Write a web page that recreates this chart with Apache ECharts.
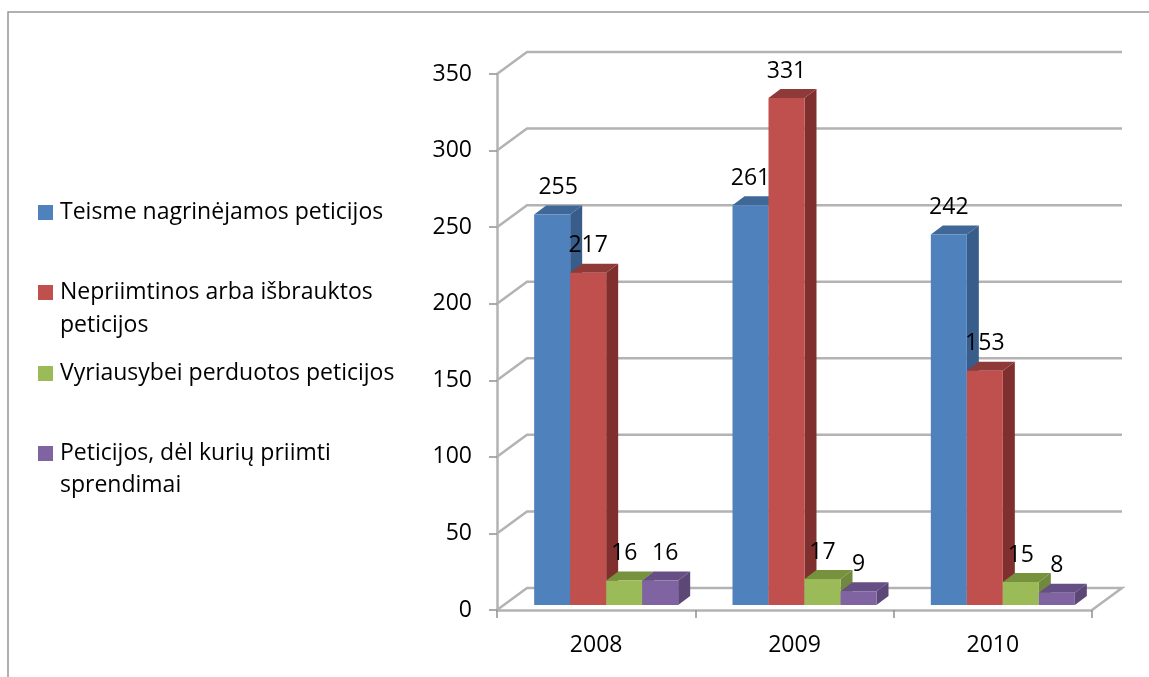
<!DOCTYPE html>
<html><head><meta charset="utf-8">
<style>html,body{margin:0;padding:0;background:#fff}#c{width:1149px;height:677px}</style>
<script src="https://cdn.jsdelivr.net/npm/echarts@6/dist/echarts.min.js"></script>
</head><body><div id="c"></div>
<script>
const categories = ['2008','2009','2010'];
const yTicks = [0,50,100,150,200,250,300,350];
const teisme = [255,261,242];
const nepriimtinos = [217,331,153];
const vyriausybei = [16,17,15];
const sprendimai = [16,9,8];

const names = ['Teisme nagrinėjamos peticijos','Nepriimtinos arba išbrauktos peticijos','Vyriausybei perduotos peticijos','Peticijos, dėl kurių priimti sprendimai'];
const firstLines = ['Teisme nagrinėjamos peticijos','Nepriimtinos arba išbrauktos','Vyriausybei perduotos peticijos','Peticijos, dėl kurių priimti'];
const values = [teisme,nepriimtinos,vyriausybei,sprendimai];
const front = ['#4F81BD','#C0504D','#9BBB59','#8064A2'];
const side = ['#385D8A','#7F302E','#71893F','#5C4776'];
const top3d = ['#3F6797','#8E3A38','#76923C','#664F85'];
const legendTop = [201,281,362,442];
const FONT = '"Open Sans"', FS = 23;
const BAR = 36, DX = 12, DY = 9, LIFT = 5, SHIFT = 10;
const WX = 30, WY = 22;
const GRID = '#B3B3B3';
const labelNudge = {'0,0':6,'3,0':5};

const walls = {
  type:'custom', silent:true, z:1, legendHoverLink:false,
  coordinateSystem:'cartesian2d',
  data: yTicks.map(v=>[0,v]),
  renderItem(params,api){
    const cs = params.coordSys, y = api.coord([0,api.value(1)])[1];
    const l = cs.x, r = cs.x+cs.width;
    const pts = [[l,y],[l+WX,y-WY],[r+WX,y-WY]];
    if(api.value(1)===0) pts.push([r,y]);
    return {type:'polyline',shape:{points:pts},style:{stroke:GRID,lineWidth:2.5,fill:null}};
  }
};

const bars = names.map((name,s)=>({
  type:'custom', name, z:2+s,
  coordinateSystem:'cartesian2d',
  itemStyle:{color:front[s]},
  data: values[s].map((v,i)=>[i,v]),
  renderItem(params,api){
    const i = api.value(0), v = api.value(1);
    const c = api.coord([i,v]), base = api.coord([i,0])[1]-LIFT;
    const unit = base+LIFT-c[1];
    const x = c[0]+(s-2)*BAR+SHIFT, yt = base-unit, w = BAR;
    const nudge = labelNudge[s+','+i]||0;
    return {type:'group',children:[
      {type:'polygon',shape:{points:[[x+w,yt],[x+w+DX,yt-DY],[x+w+DX,base-DY],[x+w,base]]},style:{fill:side[s]}},
      {type:'polygon',shape:{points:[[x,yt],[x+DX,yt-DY],[x+w+DX,yt-DY],[x+w,yt]]},style:{fill:top3d[s]}},
      {type:'rect',shape:{x,y:yt,width:w,height:base-yt},style:{fill:front[s]}},
      {type:'text',z2:50,style:{text:String(v),x:x+w/2+nudge,y:yt-27,align:'center',verticalAlign:'middle',
        fontFamily:FONT,fontSize:FS,fill:'#000'}}
    ]};
  }
}));

const chart = echarts.init(document.getElementById('c'),null,{renderer:'canvas'});
chart.setOption({
  animation:false,
  backgroundColor:'#fff',
  grid:{left:497,right:57,top:74,bottom:67},
  xAxis:{type:'category',data:categories,
    axisLine:{lineStyle:{color:GRID,width:2.5}},
    axisTick:{show:true,length:8,alignWithLabel:false,lineStyle:{color:'#909090',width:1.5}},
    axisLabel:{fontFamily:FONT,fontSize:FS,color:'#000',margin:24},splitLine:{show:false}},
  yAxis:{type:'value',min:0,max:350,interval:50,
    axisLine:{show:true,lineStyle:{color:GRID,width:2.5}},
    axisTick:{show:true,length:8,lineStyle:{color:'#909090',width:1.5}},
    axisLabel:{fontFamily:FONT,fontSize:FS,color:'#000',margin:25},splitLine:{show:false}},
  legend: names.map((n,i)=>({
    left:38, top:legendTop[i], orient:'vertical', data:[n], icon:'rect', padding:0,
    itemWidth:15, itemHeight:15, selectedMode:false,
    formatter:()=>firstLines[i],
    textStyle:{fontFamily:FONT,fontSize:FS,color:'#000',padding:[0,0,0,2]}
  })),
  graphic:[
    {type:'polyline',silent:true,shape:{points:[[8,677],[8,12],[1149,12]]},style:{stroke:'#969696',lineWidth:1.5,fill:null}},
    {type:'text',silent:true,x:60,y:325,style:{text:'peticijos',fontFamily:FONT,fontSize:FS,fill:'#000',verticalAlign:'middle'}},
    {type:'text',silent:true,x:60,y:485,style:{text:'sprendimai',fontFamily:FONT,fontSize:FS,fill:'#000',verticalAlign:'middle'}}
  ],
  series:[walls,...bars]
});
</script></body></html>
